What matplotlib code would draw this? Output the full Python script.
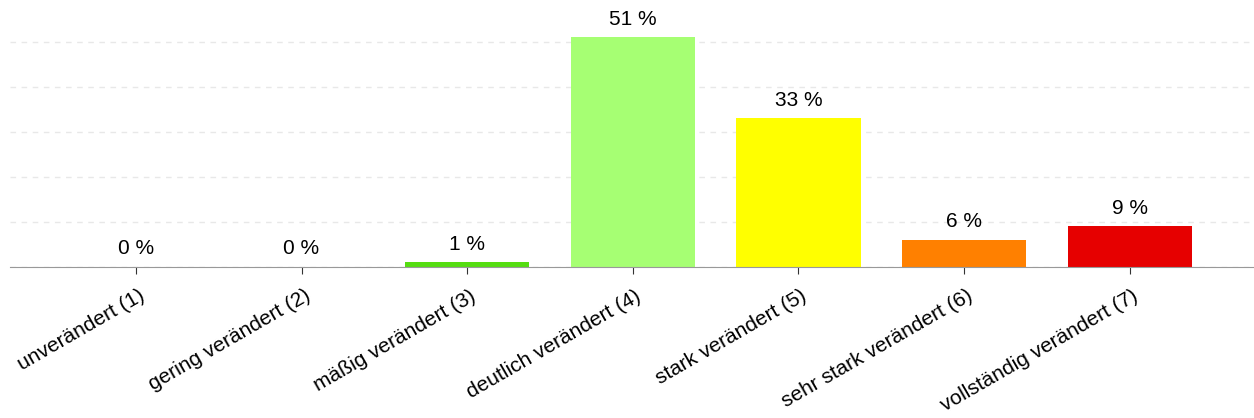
import matplotlib
matplotlib.use('Agg')
import matplotlib.pyplot as plt
from matplotlib.transforms import ScaledTranslation

categories = ['unverändert (1)', 'gering verändert (2)', 'mäßig verändert (3)',
              'deutlich verändert (4)', 'stark verändert (5)',
              'sehr stark verändert (6)', 'vollständig verändert (7)']
percent = [0, 0, 1, 51, 33, 6, 9]
colors = ['#1a9e00', '#2fc000', '#55dd11', '#a6ff73', '#ffff00', '#ff8000', '#e60000']

plt.rcParams['font.family'] = ['Liberation Sans', 'DejaVu Sans']

fig = plt.figure(figsize=(12.54, 4.18), dpi=100)
ax = fig.add_axes([0.008, 0.362, 0.992, 0.638])

x = list(range(len(categories)))
ax.bar(x, percent, width=0.75, color=colors, zorder=2)
for xi, v in zip(x, percent):
    ax.annotate(f'{v} %', (xi, v), xytext=(0, 6), textcoords='offset points',
                ha='center', va='bottom', fontsize=15)

ax.set_xlim(-0.76, 6.75)
ax.set_ylim(0, 59.3)
ax.set_yticks([0, 10, 20, 30, 40, 50])
ax.yaxis.grid(True, ls=(0, (4, 4)), color='#e8e8e8', lw=1, zorder=0)
ax.tick_params(axis='y', left=False, labelleft=False)
ax.set_xticks(x)
ax.set_xticklabels(categories, rotation=30, ha='right', va='center',
                   rotation_mode='anchor', fontsize=15)
ax.tick_params(axis='x', length=5, color='#333333', pad=15)
shift = ScaledTranslation(7 / 100, 0, fig.dpi_scale_trans)
for lbl in ax.get_xticklabels():
    lbl.set_transform(lbl.get_transform() + shift)
for side in ('top', 'right', 'left'):
    ax.spines[side].set_visible(False)
ax.spines['bottom'].set_color('#999999')
ax.spines['bottom'].set_zorder(3)

fig.savefig('out.png', dpi=100)
